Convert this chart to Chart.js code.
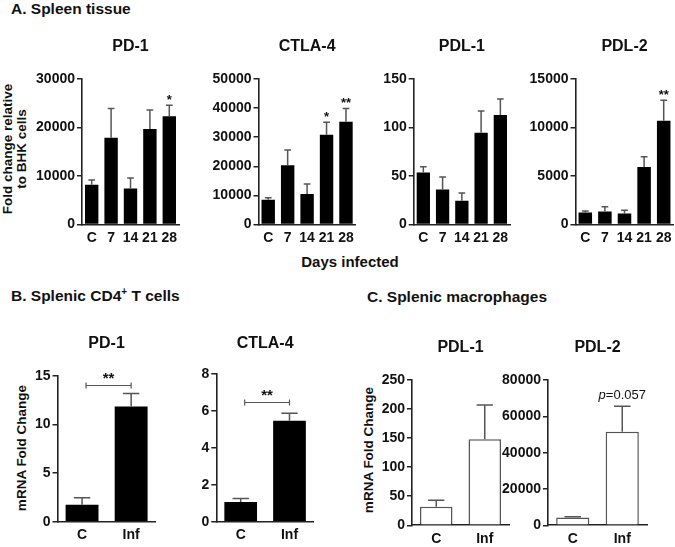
<!DOCTYPE html>
<html>
<head>
<meta charset="utf-8">
<script src="https://cdn.jsdelivr.net/npm/chart.js@4.4.1/dist/chart.umd.min.js"></script>
<style>
  body { margin: 0; background: #fff; }
  #page { position: relative; width: 675px; height: 547px; overflow: hidden;
          font-family: "Liberation Sans", Arial, sans-serif; color: #111; }
  .lbl { position: absolute; font-weight: bold; white-space: nowrap; line-height: 18px; }
  .head { font-size: 15.5px; }
  .ytitle { font-size: 13.5px; line-height: 14px; text-align: center;
            transform: translate(-50%, -50%) rotate(-90deg); }
  canvas { position: absolute; }
</style>
</head>
<body>
<div id="page">
  <div class="lbl head" style="left:11px;top:0px">A. Spleen tissue</div>
  <div class="lbl head" style="left:11px;top:287px">B. Splenic CD4<sup style="font-size:10px;line-height:0">+</sup> T cells</div>
  <div class="lbl head" style="left:367px;top:288px">C. Splenic macrophages</div>
  <div class="lbl" style="left:350px;top:253px;font-size:15px;transform:translateX(-50%)">Days infected</div>
  <div class="lbl ytitle" style="left:15px;top:149px">Fold change relative<br>to BHK cells</div>
  <div class="lbl ytitle" style="left:22px;top:448px">mRNA Fold Change</div>
  <div class="lbl ytitle" style="left:369px;top:450px">mRNA Fold Change</div>
</div>
<script>
// category labels
const days = ['C', '7', '14', '21', '28'];
const groups = ['C', 'Inf'];

// A. spleen tissue, mean and SEM
const spleenPD1 = [8200, 17900, 7400, 19700, 22300];
const spleenPD1Err = [1000, 6000, 2200, 3900, 2300];
const spleenPD1Stars = ['', '', '', '', '*'];

const spleenCTLA4 = [8500, 20400, 10500, 30800, 35300];
const spleenCTLA4Err = [700, 5200, 3400, 4300, 4600];
const spleenCTLA4Stars = ['', '', '', '*', '**'];

const spleenPDL1 = [53.5, 36, 24.5, 94.5, 113];
const spleenPDL1Err = [6, 13, 8, 22.5, 16.5];
const spleenPDL1Stars = ['', '', '', '', ''];

const spleenPDL2 = [1250, 1330, 1130, 5940, 10700];
const spleenPDL2Err = [150, 500, 350, 1050, 2100];
const spleenPDL2Stars = ['', '', '', '', '**'];

// B. CD4+ T cells
const cd4PD1 = [1.75, 11.85];
const cd4PD1Err = [0.72, 1.35];
const cd4CTLA4 = [1.07, 5.47];
const cd4CTLA4Err = [0.18, 0.4];

// C. macrophages
const macPDL1 = [32, 148];
const macPDL1Err = [11, 59];
const macPDL2 = [4300, 51500];
const macPDL2Err = [450, 14000];

// y axis ranges [max, step]
const ticksPD1 = [30000, 10000];
const ticksCTLA4 = [50000, 10000];
const ticksPDL1 = [150, 50];
const ticksPDL2 = [15000, 5000];
const ticksCd4PD1 = [15, 5];
const ticksCd4CTLA4 = [8, 2];
const ticksMacPDL1 = [250, 50];
const ticksMacPDL2 = [80000, 20000];

const FONT = '"Liberation Sans", Arial, sans-serif';
const AXIS = '#222';
const ERR = '#555';

// builds one small bar chart whose plot area lands on `area` (page pixels)
function build(area, o) {
  const YW = 62, PT = 50, XH = 30, PR = 4;
  const left = Math.round(area.l - YW);
  const top = Math.round(area.t - PT);
  const width = Math.round(area.r + PR - left);
  const height = Math.round(area.b + XH - top);
  const yw = area.l - left;
  const padTop = area.t - top;
  const padRight = left + width - area.r;
  const xh = height - (area.b - top);

  const cv = document.createElement('canvas');
  cv.width = width; cv.height = height;
  cv.style.left = left + 'px'; cv.style.top = top + 'px';
  cv.style.width = width + 'px'; cv.style.height = height + 'px';
  document.getElementById('page').appendChild(cv);

  const annot = {
    id: 'annot',
    afterDatasetsDraw(chart) {
      const ctx = chart.ctx;
      const ys = chart.scales.y;
      const meta = chart.getDatasetMeta(0);
      ctx.save();
      // error bars (upper only)
      ctx.strokeStyle = ERR;
      ctx.lineWidth = 1.5;
      meta.data.forEach((bar, i) => {
        const yt = ys.getPixelForValue(o.values[i] + o.errors[i]);
        const half = bar.width / 4;
        ctx.beginPath();
        ctx.moveTo(bar.x, bar.y);
        ctx.lineTo(bar.x, yt);
        ctx.moveTo(bar.x - half, yt);
        ctx.lineTo(bar.x + half, yt);
        ctx.stroke();
      });
      // significance stars over bars
      if (o.stars) {
        ctx.fillStyle = '#111';
        ctx.font = 'bold 13px ' + FONT;
        ctx.textAlign = 'center';
        ctx.textBaseline = 'alphabetic';
        meta.data.forEach((bar, i) => {
          if (!o.stars[i]) return;
          const yt = ys.getPixelForValue(o.values[i] + o.errors[i]);
          ctx.fillText(o.stars[i], bar.x, yt - 1.5);
        });
      }
      // comparison bracket
      if (o.bracket) {
        const a = meta.data[0], b = meta.data[1];
        const x1 = a.x + 4, x2 = b.x;
        const y = Math.round(ys.getPixelForValue(o.bracket.at)) + 0.5;
        ctx.strokeStyle = ERR;
        ctx.lineWidth = 1.2;
        ctx.beginPath();
        ctx.moveTo(x1, y); ctx.lineTo(x2, y);
        ctx.moveTo(x1, y - 3); ctx.lineTo(x1, y + 3);
        ctx.moveTo(x2, y - 3); ctx.lineTo(x2, y + 3);
        ctx.stroke();
        ctx.fillStyle = '#111';
        ctx.font = 'bold 15px ' + FONT;
        ctx.textAlign = 'center';
        ctx.fillText(o.bracket.text, (x1 + x2) / 2, y - 3);
      }
      // p-value note
      if (o.note) {
        const bar = meta.data[1];
        const yt = ys.getPixelForValue(o.values[1] + o.errors[1]) - 7;
        ctx.fillStyle = '#111';
        ctx.textAlign = 'left';
        ctx.font = 'italic 13px ' + FONT;
        const w1 = ctx.measureText(o.note[0]).width;
        ctx.font = '13px ' + FONT;
        const w2 = ctx.measureText(o.note[1]).width;
        const x0 = bar.x - (w1 + w2) / 2;
        ctx.font = 'italic 13px ' + FONT;
        ctx.fillText(o.note[0], x0, yt);
        ctx.font = '13px ' + FONT;
        ctx.fillText(o.note[1], x0 + w1, yt);
      }
      // panel title
      ctx.fillStyle = '#111';
      ctx.font = 'bold 16px ' + FONT;
      ctx.textAlign = 'center';
      ctx.fillText(o.title, (chart.chartArea.left + chart.chartArea.right) / 2, o.titleY - top);
      ctx.restore();
    }
  };

  return new Chart(cv, {
    type: 'bar',
    data: {
      labels: o.labels,
      datasets: [{
        data: o.values,
        backgroundColor: o.fill,
        borderColor: o.border,
        borderWidth: o.border ? 1.5 : 0,
        categoryPercentage: 1,
        barPercentage: o.barPct
      }]
    },
    options: {
      responsive: false,
      animation: false,
      events: [],
      layout: { padding: { top: padTop, right: padRight, left: 0, bottom: 0 } },
      plugins: { legend: { display: false }, tooltip: { enabled: false } },
      scales: {
        x: {
          afterFit: s => { s.height = xh; },
          grid: { display: true, drawOnChartArea: false, drawTicks: false },
          border: { color: AXIS, width: 1.6 },
          ticks: { color: '#111', padding: 5, autoSkip: false, maxRotation: 0, minRotation: 0,
                   font: { family: FONT, size: 14, weight: 'bold' } }
        },
        y: {
          min: 0, max: o.ticks[0],
          afterFit: s => { s.width = yw; },
          grid: { display: true, drawOnChartArea: false, drawTicks: true, tickLength: 5, color: AXIS, lineWidth: 1.5 },
          border: { color: AXIS, width: 1.6 },
          ticks: { stepSize: o.ticks[1], color: '#111', padding: 2,
                   font: { family: FONT, size: 14, weight: 'bold' },
                   callback: v => String(v) }
        }
      }
    },
    plugins: [annot]
  });
}

const rowA = { t: 79, b: 224.5, titleY: 50.5 };
build({ l: 82, r: 179, t: rowA.t, b: rowA.b }, { labels: days, values: spleenPD1, errors: spleenPD1Err, stars: spleenPD1Stars,
  ticks: ticksPD1, fill: '#000', barPct: 0.69, title: 'PD-1', titleY: rowA.titleY });
build({ l: 258.5, r: 355.7, t: rowA.t, b: rowA.b }, { labels: days, values: spleenCTLA4, errors: spleenCTLA4Err, stars: spleenCTLA4Stars,
  ticks: ticksCTLA4, fill: '#000', barPct: 0.69, title: 'CTLA-4', titleY: rowA.titleY });
build({ l: 413.7, r: 510, t: rowA.t, b: rowA.b }, { labels: days, values: spleenPDL1, errors: spleenPDL1Err, stars: spleenPDL1Stars,
  ticks: ticksPDL1, fill: '#000', barPct: 0.69, title: 'PDL-1', titleY: rowA.titleY });
build({ l: 575.5, r: 673.5, t: rowA.t, b: rowA.b }, { labels: days, values: spleenPDL2, errors: spleenPDL2Err, stars: spleenPDL2Stars,
  ticks: ticksPDL2, fill: '#000', barPct: 0.69, title: 'PDL-2', titleY: rowA.titleY });

build({ l: 57.5, r: 155.7, t: 376, b: 521.7 }, { labels: groups, values: cd4PD1, errors: cd4PD1Err,
  bracket: { at: 14.07, text: '**' }, ticks: ticksCd4PD1, fill: '#000', barPct: 0.67, title: 'PD-1', titleY: 347.5 });
build({ l: 216.3, r: 313.9, t: 374, b: 521.7 }, { labels: groups, values: cd4CTLA4, errors: cd4CTLA4Err,
  bracket: { at: 6.47, text: '**' }, ticks: ticksCd4CTLA4, fill: '#000', barPct: 0.67, title: 'CTLA-4', titleY: 347.5 });

build({ l: 412, r: 509, t: 380, b: 525.3 }, { labels: groups, values: macPDL1, errors: macPDL1Err,
  ticks: ticksMacPDL1, fill: '#fff', border: '#555', barPct: 0.67, title: 'PDL-1', titleY: 351.5 });
build({ l: 548, r: 647, t: 380, b: 525.3 }, { labels: groups, values: macPDL2, errors: macPDL2Err,
  note: ['p', '=0.057'], ticks: ticksMacPDL2, fill: '#fff', border: '#555', barPct: 0.67, title: 'PDL-2', titleY: 351.5 });
</script>
</body>
</html>
